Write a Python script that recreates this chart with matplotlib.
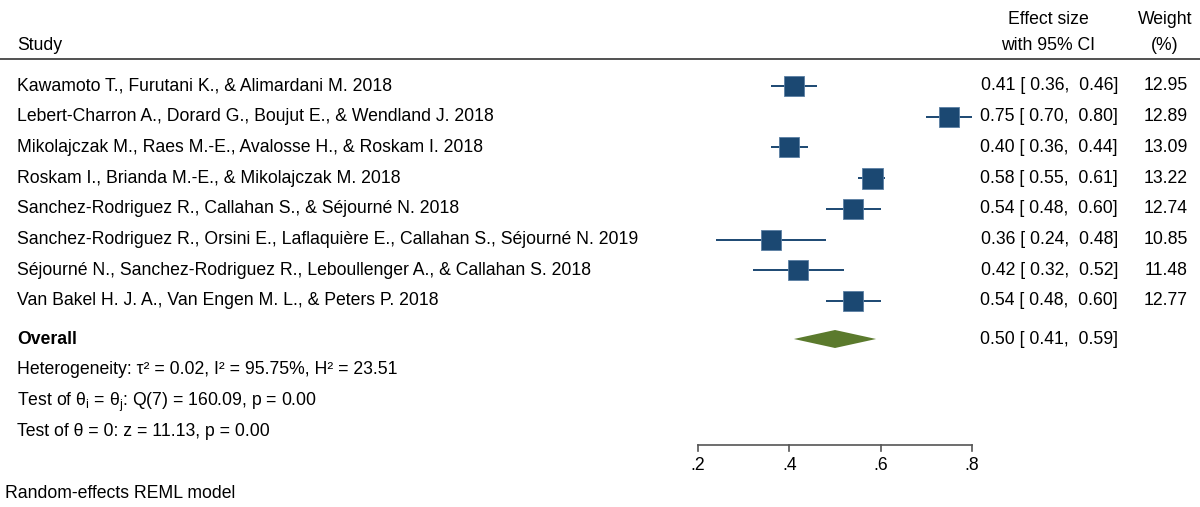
import matplotlib.pyplot as plt
import numpy as np

plt.rcParams['font.family'] = ['Liberation Sans', 'DejaVu Sans']
plt.rcParams['mathtext.fontset'] = 'custom'
plt.rcParams['mathtext.rm'] = 'Liberation Sans'
plt.rcParams['mathtext.it'] = 'Liberation Sans'

studies = [
    "Kawamoto T., Furutani K., & Alimardani M. 2018",
    "Lebert-Charron A., Dorard G., Boujut E., & Wendland J. 2018",
    "Mikolajczak M., Raes M.-E., Avalosse H., & Roskam I. 2018",
    "Roskam I., Brianda M.-E., & Mikolajczak M. 2018",
    "Sanchez-Rodriguez R., Callahan S., & Séjourné N. 2018",
    "Sanchez-Rodriguez R., Orsini E., Laflaquière E., Callahan S., Séjourné N. 2019",
    "Séjourné N., Sanchez-Rodriguez R., Leboullenger A., & Callahan S. 2018",
    "Van Bakel H. J. A., Van Engen M. L., & Peters P. 2018",
]
es = [0.41, 0.75, 0.40, 0.58, 0.54, 0.36, 0.42, 0.54]
lo = [0.36, 0.70, 0.36, 0.55, 0.48, 0.24, 0.32, 0.48]
hi = [0.46, 0.80, 0.44, 0.61, 0.60, 0.48, 0.52, 0.60]
weight = [12.95, 12.89, 13.09, 13.22, 12.74, 10.85, 11.48, 12.77]
overall = (0.50, 0.41, 0.59)
xticks = [0.2, 0.4, 0.6, 0.8]
xtick_labels = [".2", ".4", ".6", ".8"]

W, H = 1200, 507
fig = plt.figure(figsize=(W / 100, H / 100), dpi=100)
ax = fig.add_axes([0, 0, 1, 1])
# effect scale: .2 sits at x=698px, .8 at x=972px
ppu = (972 - 698) / 0.6
ax.set_xlim(0.2 - 698 / ppu, 0.8 + (W - 972) / ppu)
ax.set_ylim(H, 0)
ax.axis('off')

blue = '#1b4872'
green = '#5b7a2d'
fs = 12.7

def px(x, y):
    return x / W, 1 - y / H

# header
fig.text(*px(17, 45), "Study", fontsize=fs, va='center', ha='left')
fig.text(*px(1048, 19), "Effect size", fontsize=fs, va='center', ha='center')
fig.text(*px(1048, 45), "with 95% CI", fontsize=fs, va='center', ha='center')
fig.text(*px(1165, 19), "Weight", fontsize=fs, va='center', ha='center')
fig.text(*px(1165, 45), "(%)", fontsize=fs, va='center', ha='center')
ax.plot([ax.get_xlim()[0], ax.get_xlim()[1]], [59, 59], color='#333333', lw=1.2)

row_y = 86 + 30.7 * np.arange(len(studies))
for i, name in enumerate(studies):
    y = row_y[i]
    fig.text(*px(17, y), name, fontsize=fs, va='center', ha='left')
    ax.plot([lo[i], hi[i]], [y, y], color=blue, lw=1.4, solid_capstyle='butt', zorder=2)
    ms = 21 * 0.72 * np.sqrt(weight[i] / max(weight))
    ax.plot(es[i], y, marker='s', ms=ms, color=blue, mec='#5a7fa3', mew=0.6, zorder=3)
    fig.text(*px(1118, y), f"{es[i]:.2f} [ {lo[i]:.2f},  {hi[i]:.2f}]",
             fontsize=fs, va='center', ha='right')
    fig.text(*px(1188, y), f"{weight[i]:.2f}", fontsize=fs, va='center', ha='right')

# overall diamond
oy = 339
m, l, h = overall
ax.fill([l, m, h, m], [oy, oy - 9, oy, oy + 9], color=green, lw=0, zorder=3)
fig.text(*px(17, oy), "Overall", fontsize=fs, fontweight='bold', va='center', ha='left')
fig.text(*px(1118, oy), f"{m:.2f} [ {l:.2f},  {h:.2f}]", fontsize=fs, va='center', ha='right')

fig.text(*px(17, 370), "Heterogeneity: τ² = 0.02, I² = 95.75%, H² = 23.51",
         fontsize=fs, va='center', ha='left')
fig.text(*px(17, 401), r"Test of θ$_\mathregular{i}$ = θ$_\mathregular{j}$: Q(7) = 160.09, p = 0.00",
         fontsize=fs, va='baseline', ha='left', transform=fig.transFigure)
fig.texts[-1].set_position(px(17, 406))
fig.text(*px(17, 431), "Test of θ = 0: z = 11.13, p = 0.00",
         fontsize=fs, va='center', ha='left')

# x axis
ay = 445
ax.plot([xticks[0], xticks[-1]], [ay, ay], color='#555555', lw=1.2)
for t, lab in zip(xticks, xtick_labels):
    ax.plot([t, t], [ay, ay + 6], color='#555555', lw=1.2)
    ax.text(t, ay + 20, lab, fontsize=fs, ha='center', va='center')

fig.text(*px(5, 494), "Random-effects REML model", fontsize=fs, va='center', ha='left')

fig.savefig('out.png', dpi=100)
